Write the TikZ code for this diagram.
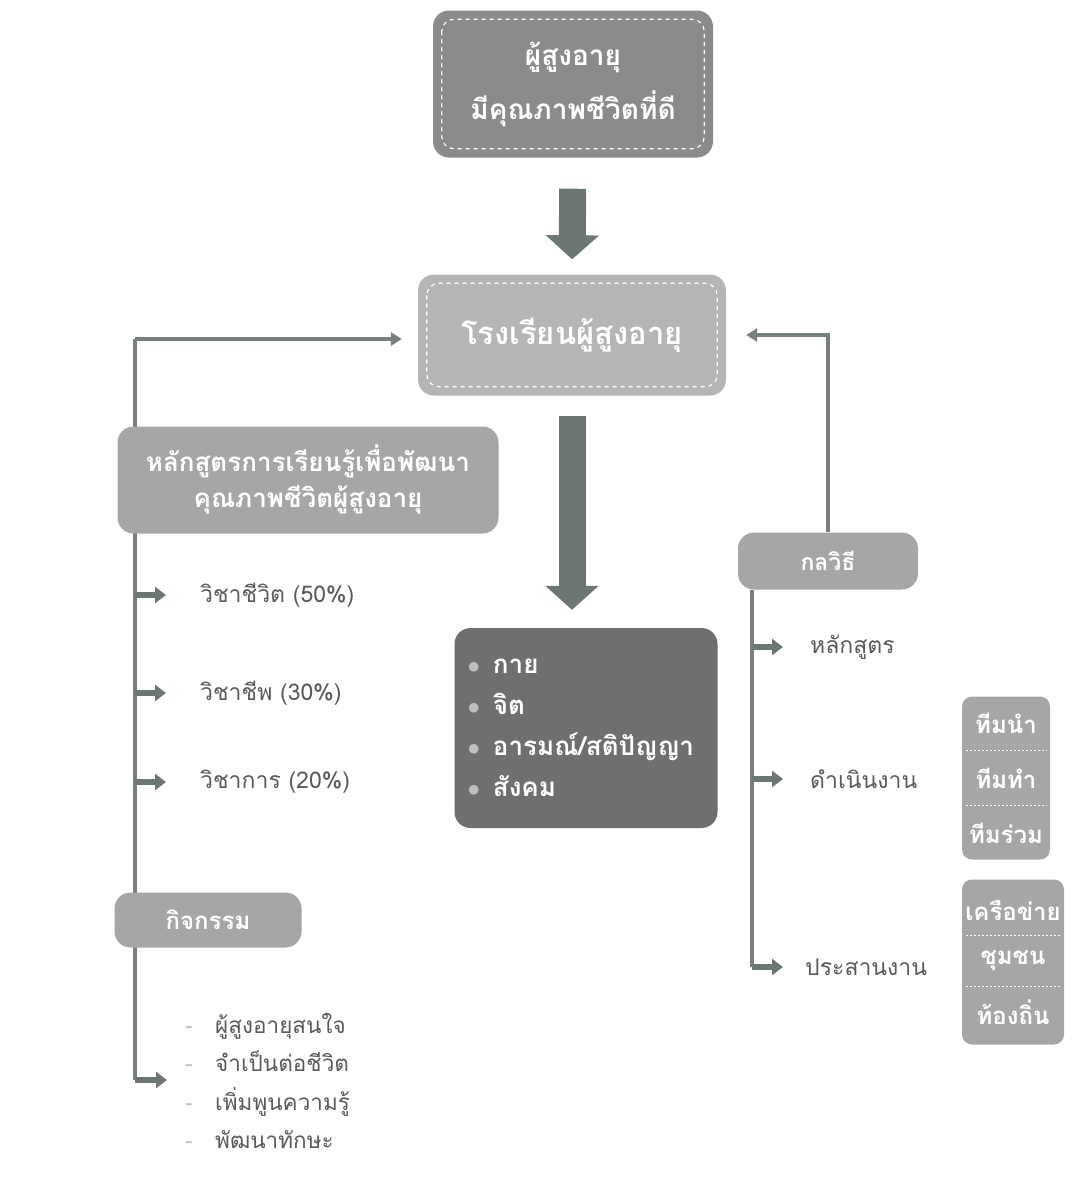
\documentclass[tikz,border=0pt]{standalone}
\usepackage{fontspec}
\newfontfamily\thaifont[Script=Thai]{Loma}
\usetikzlibrary{arrows.meta,positioning,backgrounds,calc}
\definecolor{topgray}{HTML}{8A8B8A}
\definecolor{schoolgray}{HTML}{B3B6B5}
\definecolor{boxgray}{HTML}{A5A7A6}
\definecolor{boxdark}{HTML}{6E6F6E}
\definecolor{arrowgray}{HTML}{6C7673}
\definecolor{linegray}{HTML}{77807E}
\definecolor{textgray}{HTML}{5A5A5A}
\newcommand{\fs}[2]{\thaifont\fontsize{#1}{#2}\selectfont}

\begin{document}
\begin{tikzpicture}[x=1pt,y=-1pt,
  box/.style={rounded corners=16pt, inner sep=0pt, text=white, align=center},
  dashframe/.style={draw=white, line width=1.2pt, dash pattern=on 4pt off 4pt, rounded corners=12pt},
  bigarrow/.style={draw=arrowgray, line width=27pt, -{Triangle[width=52pt,length=24pt]}},
  link/.style={draw=linegray, line width=3.5pt, -{Triangle[width=13pt,length=11pt]}},
  trunk/.style={draw=linegray, line width=3.5pt},
  branch/.style={draw=arrowgray, line width=6pt, -{Triangle[width=16pt,length=11pt]}},
  itemtext/.style={anchor=west, inner sep=0pt, text=textgray, font=\fs{23}{27}},
  teamtext/.style={inner sep=0pt, text=white, font=\fs{24}{28}\bfseries},
  sep/.style={draw=white, line width=1.2pt, dash pattern=on 2pt off 2pt}]

\useasboundingbox (0,0) rectangle (1065,1179);

% boxes
\node[box, fill=topgray, minimum width=280pt, minimum height=147pt, font=\fs{28}{54}\bfseries] (goal) at (573,84) {ผู้สูงอายุ\\มีคุณภาพชีวิตที่ดี};
\draw[dashframe] ([shift={(9pt,-9pt)}]goal.north west) rectangle ([shift={(-9pt,9pt)}]goal.south east);

\node[box, fill=schoolgray, minimum width=308pt, minimum height=121pt, font=\fs{31}{36}\bfseries] (school) at (572,335) {โรงเรียนผู้สูงอายุ};
\draw[dashframe] ([shift={(9pt,-9pt)}]school.north west) rectangle ([shift={(-9pt,9pt)}]school.south east);

\node[box, fill=boxgray, minimum width=381pt, minimum height=107pt, font=\fs{26}{36}\bfseries] (course) at (308,480) {หลักสูตรการเรียนรู้เพื่อพัฒนา\\คุณภาพชีวิตผู้สูงอายุ};

\node[box, fill=boxdark, minimum height=200pt, text width=237pt, align=left, inner xsep=13pt, font=\fs{26}{41}\bfseries] (dims) at (586,728)
  {{\color{lightgray}$\bullet$}\enspace กาย\\{\color{lightgray}$\bullet$}\enspace จิต\\{\color{lightgray}$\bullet$}\enspace อารมณ์/สติปัญญา\\{\color{lightgray}$\bullet$}\enspace สังคม};

\node[box, fill=boxgray, minimum width=180pt, minimum height=57pt, font=\fs{23}{26}\bfseries] (tactic) at (828,561) {กลวิธี};
\node[box, fill=boxgray, minimum width=187pt, minimum height=55pt, font=\fs{24}{26}\bfseries] (activity) at (208,920) {กิจกรรม};

% left items
\node[itemtext] (life) at (200,595) {วิชาชีวิต (50\%)};
\node[itemtext] (career) at (200,693) {วิชาชีพ (30\%)};
\node[itemtext] (academic) at (200,782) {วิชาการ (20\%)};
\node[anchor=north west, inner sep=0pt, align=left, text=textgray, font=\fs{22.5}{38.5}] (reasons) at (185,1013)
  {{\color{lightgray}-}\quad ผู้สูงอายุสนใจ\\{\color{lightgray}-}\quad จำเป็นต่อชีวิต\\{\color{lightgray}-}\quad เพิ่มพูนความรู้\\{\color{lightgray}-}\quad พัฒนาทักษะ};

% right items
\node[itemtext] (rcourse) at (810,647) {หลักสูตร};
\node[itemtext] (rwork) at (810,779) {ดำเนินงาน};
\node[itemtext] (rcoord) at (805,967) {ประสานงาน};

\node[box, fill=boxgray, rounded corners=10pt, minimum width=88pt, minimum height=163pt] (teambox) at (1006,778) {};
\node[teamtext] (tlead) at (1006,723) {ทีมนำ};
\node[teamtext] (tdo) at (1006,778) {ทีมทำ};
\node[teamtext] (tjoin) at (1006,833) {ทีมร่วม};
\coordinate (tsep1) at ($(tlead)!0.5!(tdo)$);
\coordinate (tsep2) at ($(tdo)!0.5!(tjoin)$);
\draw[sep, shorten <=4pt, shorten >=4pt] (teambox.west |- tsep1) -- (teambox.east |- tsep1);
\draw[sep, shorten <=4pt, shorten >=4pt] (teambox.west |- tsep2) -- (teambox.east |- tsep2);

\node[box, fill=boxgray, rounded corners=10pt, minimum width=102pt, minimum height=165pt] (netbox) at (1013,962) {};
\node[teamtext] (net) at (1013,910) {เครือข่าย};
\node[teamtext] (comm) at (1013,961) {ชุมชน};
\node[teamtext] (local) at (1013,1012) {ท้องถิ่น};
\coordinate (nsep1) at ($(net)!0.5!(comm)$);
\coordinate (nsep2) at ($(comm)!0.5!(local)$);
\draw[sep, shorten <=4pt, shorten >=4pt] (netbox.west |- nsep1) -- (netbox.east |- nsep1);
\draw[sep, shorten <=4pt, shorten >=4pt] (netbox.west |- nsep2) -- (netbox.east |- nsep2);

% connectors
\coordinate (ltop) at (135,339);
\coordinate (lend) at (167,1080);
\coordinate (rtop) at (752,590);

\begin{scope}[on background layer]
  \draw[trunk] (ltop |- lend) -- (ltop);
  \draw[link, shorten >=16pt] (ltop) -- (ltop -| school.west);
  \draw[branch] (ltop |- lend) -- (lend);
  \draw[branch, shorten >=34pt] (ltop |- life.west) -- (life.west);
  \draw[branch, shorten >=34pt] (ltop |- career.west) -- (career.west);
  \draw[branch, shorten >=34pt] (ltop |- academic.west) -- (academic.west);
  \draw[link, shorten >=20pt] (tactic.north) |- (school.east);
  \draw[trunk] (rtop) -- (rtop |- rcoord.west);
  \draw[branch, shorten >=27pt] (rtop |- rcourse.west) -- (rcourse.west);
  \draw[branch, shorten >=27pt] (rtop |- rwork.west) -- (rwork.west);
  \draw[branch, shorten >=22pt] (rtop |- rcoord.west) -- (rcoord.west);
\end{scope}

\draw[bigarrow, shorten <=31pt, shorten >=15pt] (goal.south) -- (school.north);
\draw[bigarrow, shorten <=20pt, shorten >=18pt] (school.south) -- (school.south |- dims.north);
\end{tikzpicture}
\end{document}
